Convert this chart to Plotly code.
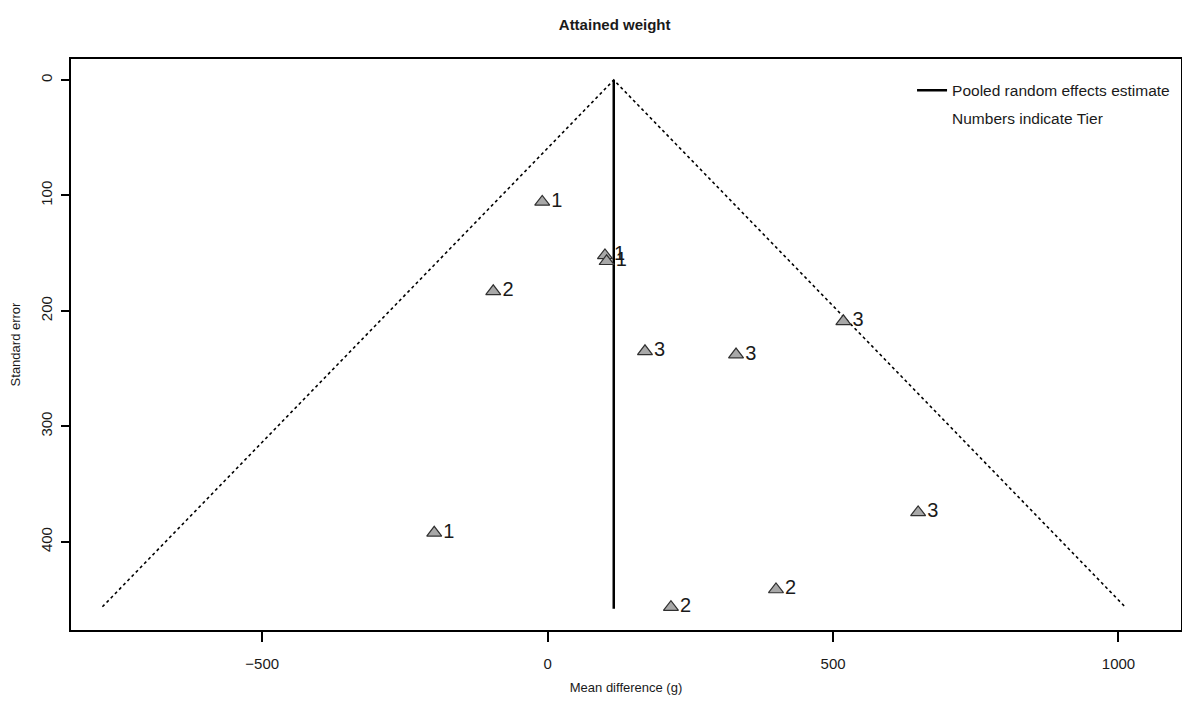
import plotly.graph_objects as go

# ---- data ----
title_text = "Attained weight"
x_title = "Mean difference (g)"
y_title = "Standard error"

mean_diff = [-9.5, 100.4, 103.3, -95.3, 170.5, 330.0, 518.0, 649.0, -198.7, 216.0, 400.0]
std_err = [105.6, 151.9, 157.0, 183.0, 235.0, 237.8, 209.0, 374.5, 392.2, 456.6, 441.3]
tier = ["1", "1", "1", "2", "3", "3", "3", "3", "1", "2", "2"]

pooled_estimate = 115.8
pooled_line_se = [0, 458.0]

funnel_x = [-780.0, 115.8, 1011.4]
funnel_y = [456.3, 0.0, 456.3]

x_ticks = [-500, 0, 500, 1000]
y_ticks = [0, 100, 200, 300, 400]

legend_labels = ["Pooled random effects estimate", "Numbers indicate Tier"]

FONT = "Liberation Sans, Arial, sans-serif"

fig = go.Figure()

# funnel (dotted)
fig.add_trace(go.Scatter(
    x=funnel_x, y=funnel_y, mode="lines",
    line=dict(color="black", width=1.6, dash="3px,3px"),
    showlegend=False, hoverinfo="skip"))

# pooled estimate vertical line
fig.add_trace(go.Scatter(
    x=[pooled_estimate, pooled_estimate], y=pooled_line_se, mode="lines",
    line=dict(color="black", width=2.5),
    name=legend_labels[0], legendgroup="a", showlegend=True))

# studies
fig.add_trace(go.Scatter(
    x=mean_diff, y=std_err, mode="markers+text",
    marker=dict(symbol="triangle-up", size=13, color="#a8a8a8",
                line=dict(color="#303030", width=1.2)),
    text=tier, textposition="middle right",
    textfont=dict(family=FONT, size=20, color="#1a1a1a"),
    showlegend=False))

# legend text-only entry
fig.add_trace(go.Scatter(
    x=[None], y=[None], mode="none",
    name=legend_labels[1], legendgroup="b", showlegend=True))

fig.update_layout(
    width=1182, height=714,
    paper_bgcolor="white", plot_bgcolor="white",
    margin=dict(l=71, r=1, t=59, b=84, autoexpand=False),
    font=dict(family=FONT, size=14, color="#1a1a1a"),
    title=dict(text="<b>" + title_text + "</b>", x=0.52, xref="container",
               y=0.965, yref="container", xanchor="center", yanchor="middle",
               font=dict(family=FONT, size=15, color="#1a1a1a")),
    legend=dict(x=0.7577, y=0.9745, xanchor="left", yanchor="top",
                bgcolor="rgba(0,0,0,0)", borderwidth=0, itemwidth=30,
                font=dict(family=FONT, size=15.5, color="#1a1a1a"),
                tracegroupgap=5, traceorder="grouped"),
)

fig.update_xaxes(
    range=[-835, 1109.5], tickmode="array", tickvals=x_ticks,
    ticks="outside", ticklen=10, tickwidth=1.5, tickcolor="black",
    showline=True, linecolor="black", linewidth=2, mirror=True,
    showgrid=False, zeroline=False, automargin=False, ticklabelstandoff=9,
    title=dict(text=x_title, standoff=12, font=dict(family=FONT, size=13)),
    tickfont=dict(family=FONT, size=15))

fig.update_yaxes(
    range=[476.4, -18.2], tickmode="array", tickvals=y_ticks,
    ticks="outside", ticklen=8, tickwidth=1.5, tickcolor="black",
    showline=True, linecolor="black", linewidth=2, mirror=True,
    showgrid=False, zeroline=False, tickangle=-90, automargin=False,
    ticklabelstandoff=3,
    title=dict(text=y_title, standoff=14, font=dict(family=FONT, size=13)),
    tickfont=dict(family=FONT, size=15))

fig.write_html("out.html",
               config={"displayModeBar": False},
               post_script="document.body.style.margin='0';document.body.style.overflow='hidden';")
